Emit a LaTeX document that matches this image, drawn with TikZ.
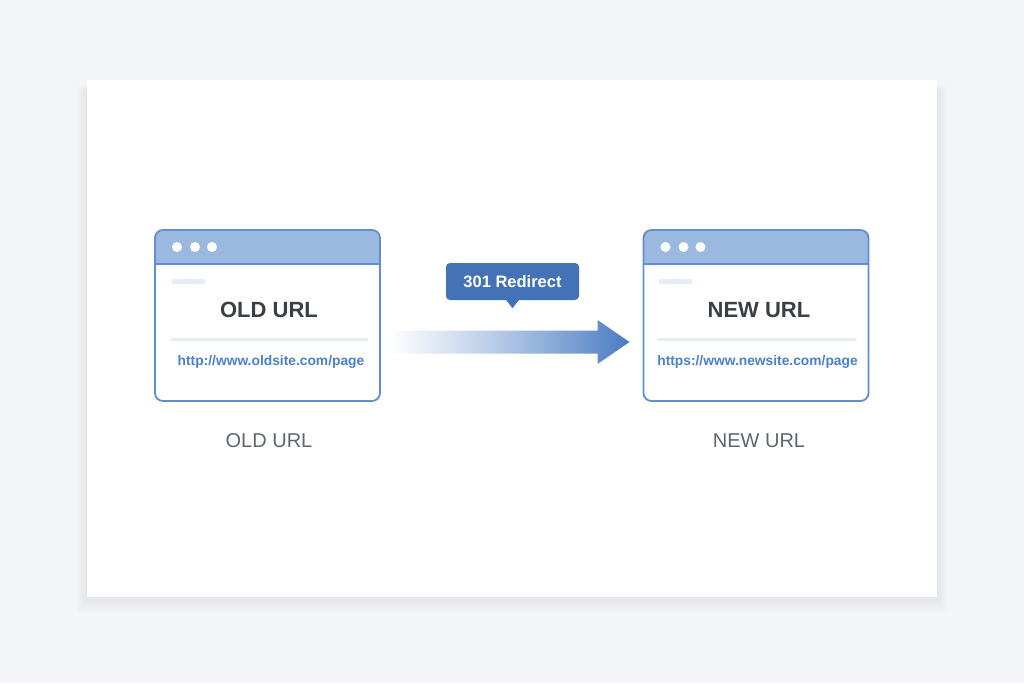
\documentclass[tikz,border=0pt]{standalone}
\usepackage{fontspec}
\setmainfont{Liberation Sans}
\usetikzlibrary{positioning,calc}

\definecolor{pagebg}{HTML}{F4F5F8}
\definecolor{winline}{HTML}{5F8FD0}
\definecolor{barblue}{HTML}{9BB8E1}
\definecolor{barlight}{HTML}{E4ECF7}
\definecolor{titlegray}{HTML}{3B3F45}
\definecolor{urlblue}{HTML}{4A80D0}
\definecolor{capgray}{HTML}{5E6670}
\definecolor{badgeblue}{HTML}{4373B6}
\definecolor{arrowblue}{HTML}{4A7CC2}

\tikzset{
  card/.style={fill=white, minimum width=850pt, minimum height=517pt, inner sep=0pt, outer sep=0pt},
  window/.style={fill=white, minimum width=225pt, minimum height=171pt, inner sep=0pt, outer sep=0pt},
  winframe/.style={draw=winline, line width=1.8pt, rounded corners=8pt},
  pagetitle/.style={text=titlegray, font=\fontsize{22}{26}\selectfont\bfseries, inner sep=0pt},
  pageurl/.style={text=urlblue, font=\fontsize{13.8}{16}\selectfont\bfseries, inner sep=0pt},
  caption/.style={text=capgray, font=\fontsize{20}{24}\selectfont, inner sep=0pt},
  badge/.style={fill=badgeblue, text=white, rounded corners=4pt, minimum width=133pt, minimum height=37pt,
    inner sep=0pt, font=\fontsize{16.5}{20}\selectfont\bfseries}
}

\begin{document}
\begin{tikzpicture}[x=1pt, y=-1pt]
    % page and card with a soft shadow
    \fill[pagebg] (0,0) rectangle (1024,683);
    \foreach \i in {1,...,16} {
            \fill[black, opacity=0.0035] (87-0.7*\i, 90-0.2*\i) rectangle (937+0.7*\i, 598+\i);
        }
    \node[card] (card) at (512,338.5) {};

    % the two browser windows
    \node[window] (oldwin) at (267.5,315.5) {};
    \node[window] (newwin) at (756,315.5) {};

    % title bars, clipped to the rounded frame
    \begin{scope}
        \clip[rounded corners=8pt] (oldwin.north west) rectangle (oldwin.south east);
        \fill[barblue] (oldwin.north west) rectangle ($(oldwin.north east)+(0,34)$);
    \end{scope}
    \begin{scope}
        \clip[rounded corners=8pt] (newwin.north west) rectangle (newwin.south east);
        \fill[barblue] (newwin.north west) rectangle ($(newwin.north east)+(0,34)$);
    \end{scope}
    \draw[winline, line width=1.4pt] ($(oldwin.north west)+(0,34)$) -- ($(oldwin.north east)+(0,34)$);
    \draw[winline, line width=1.4pt] ($(newwin.north west)+(0,34)$) -- ($(newwin.north east)+(0,34)$);
    \draw[winframe] (oldwin.north west) rectangle (oldwin.south east);
    \draw[winframe] (newwin.north west) rectangle (newwin.south east);

    % window dots
    \foreach \dx in {22,40,57} {
            \fill[white] ($(oldwin.north west)+(\dx,17)$) circle (5pt);
            \fill[white] ($(newwin.north west)+(\dx,17)$) circle (5pt);
        }

    % placeholder bars
    \fill[barlight, rounded corners=2pt] ($(oldwin.north west)+(17,49)$) rectangle ($(oldwin.north west)+(50,54)$);
    \fill[barlight, rounded corners=2pt] ($(newwin.north west)+(15,49)$) rectangle ($(newwin.north west)+(49,54)$);
    \draw[barlight, line width=3pt, line cap=round] ($(oldwin.west)+(17,23.5)$) -- ($(oldwin.east)+(-13,23.5)$);
    \draw[barlight, line width=3pt, line cap=round] ($(newwin.west)+(15,23.5)$) -- ($(newwin.east)+(-13,23.5)$);

    % window contents
    \node[pagetitle] (oldtitle) at ($(oldwin.center)+(1.5,-5.5)$) {OLD URL};
    \node[pagetitle] (newtitle) at ($(newwin.center)+(3,-5.5)$) {NEW URL};
    \node[pageurl] (oldurl) at ($(oldwin.center)+(3.5,46.5)$) {http://www.oldsite.com/page};
    \node[pageurl] (newurl) at ($(newwin.center)+(1.5,46.5)$) {https://www.newsite.com/page};

    % captions under the windows
    \node[caption] (oldcap) at ($(oldwin.south)+(1.5,39.5)$) {OLD URL};
    \node[caption] (newcap) at ($(newwin.south)+(3,39.5)$) {NEW URL};

    % redirect arrow
    \coordinate (tail) at ($(oldwin.east)+(10,26.5)$);
    \coordinate (tip) at ($(newwin.west)+(-14,26.5)$);
    \shade[left color=white, right color=arrowblue, middle color=arrowblue!45]
    ($(tail)+(0,-11.5)$) -- ($(tip)+(-32,-11.5)$) -- ($(tip)+(-32,-22)$) -- (tip)
    -- ($(tip)+(-32,22)$) -- ($(tip)+(-32,11.5)$) -- ($(tail)+(0,11.5)$) -- cycle;

    % callout
    \node[badge] (redirect) at (512.5,281.5) {301 Redirect};
    \fill[badgeblue] ($(redirect.south)+(-7,-1)$) -- ($(redirect.south)+(0,8)$) -- ($(redirect.south)+(7,-1)$) -- cycle;
\end{tikzpicture}
\end{document}
